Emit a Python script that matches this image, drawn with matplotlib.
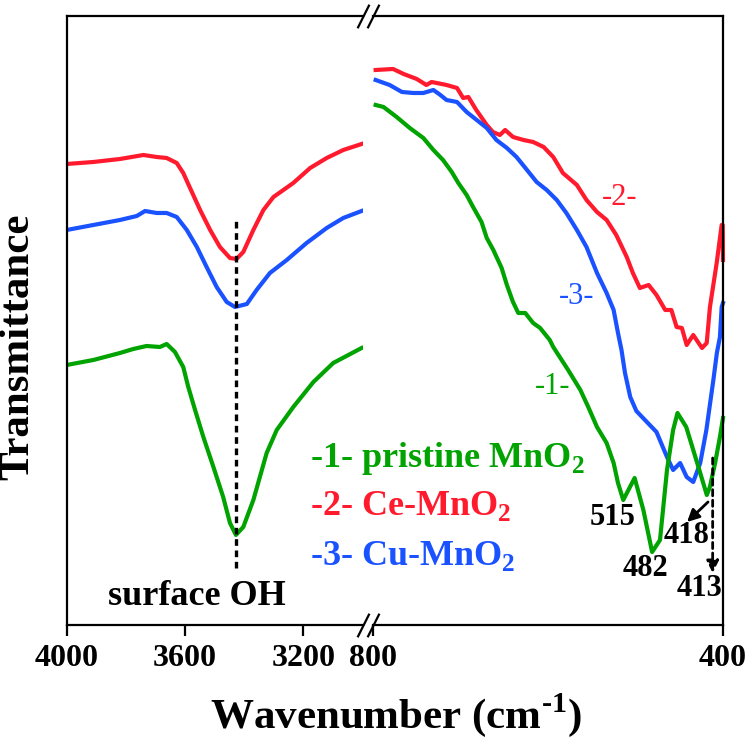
import matplotlib
matplotlib.use("Agg")
import matplotlib.pyplot as plt

plt.rcParams["font.family"] = ["Liberation Serif", "DejaVu Serif"]
plt.rcParams["font.weight"] = "bold"
plt.rcParams["mathtext.fontset"] = "custom"
plt.rcParams["mathtext.rm"] = "Liberation Serif:bold"
plt.rcParams["mathtext.bf"] = "Liberation Serif:bold"

# ---- OH region (4000-3000 cm-1) ----
oh_wn_red = [4000, 3910, 3820, 3780, 3741, 3696, 3662, 3628, 3606, 3583, 3549, 3515,
             3482, 3448, 3426, 3403, 3369, 3335, 3301, 3234, 3177, 3121, 3065, 3003]
oh_red = [46.1, 46.3, 46.6, 46.8, 47.0, 46.8, 46.7, 46.2, 45.2, 43.7, 41.5, 39.5,
          37.8, 36.7, 36.6, 37.3, 39.5, 41.5, 42.8, 44.2, 45.7, 46.7, 47.5, 48.1]

oh_wn_blue = [4000, 3910, 3820, 3763, 3735, 3696, 3662, 3628, 3594, 3560, 3527,
              3493, 3459, 3431, 3391, 3358, 3313, 3256, 3189, 3121, 3065, 3003]
oh_blue = [39.5, 40.0, 40.5, 40.9, 41.4, 41.2, 41.2, 40.8, 39.5, 37.8, 35.8,
           33.8, 32.3, 31.8, 32.1, 33.5, 35.2, 36.5, 38.2, 39.7, 40.7, 41.4]

oh_wn_green = [4000, 3910, 3820, 3775, 3730, 3685, 3662, 3634, 3606, 3589, 3566,
               3538, 3504, 3471, 3448, 3428, 3403, 3369, 3324, 3290, 3234, 3166,
               3099, 3003]
oh_green = [26.0, 26.5, 27.2, 27.6, 27.9, 27.8, 28.1, 27.3, 25.8, 23.8, 21.5,
            18.8, 15.8, 12.8, 10.2, 9.0, 9.8, 12.5, 17.2, 19.5, 21.8, 24.3,
            26.2, 27.7]

# ---- Mn-O region (800-400 cm-1) ----
mo_wn_red = [797, 777, 765, 750, 739, 733, 716, 704, 697, 691, 682, 670, 663, 655,
             649, 640, 628, 617, 605, 594, 583, 567, 556, 544, 533, 522, 510, 503,
             495, 485, 476, 466, 459, 453, 447, 441.5, 434, 424, 418.6, 414.9, 407.2,
             401.5, 400.3, 400]
mo_red = [55.5, 55.6, 55.1, 54.6, 54.0, 54.3, 54.0, 53.7, 52.7, 52.8, 51.5, 50.0,
          49.3, 49.0, 49.5, 48.8, 48.5, 48.3, 47.8, 46.8, 45.2, 44.0, 42.5, 41.3,
          40.5, 39.0, 36.8, 35.2, 33.7, 34.0, 33.0, 31.5, 31.5, 29.8, 29.7, 28.0,
          29.0, 27.7, 28.2, 31.8, 36.2, 40.0, 40.0, 36.5]

mo_wn_blue = [797, 781, 767, 754, 742.5, 731, 723, 716, 704, 693, 681.5, 670, 659,
              647, 636, 624, 613, 601.5, 590, 579, 567, 556, 544, 533, 525, 520,
              516, 512, 506, 499, 487, 476, 464, 457, 449, 441.5, 434, 426, 419,
              411, 407, 403.5, 401.5, 400]
mo_blue = [54.5, 54.0, 53.3, 53.2, 53.2, 53.5, 53.0, 52.5, 52.3, 51.3, 50.5, 49.7,
           48.5, 47.7, 46.8, 45.5, 44.3, 43.5, 42.5, 41.2, 39.5, 37.8, 35.2, 33.2,
           31.5, 29.2, 27.5, 25.2, 22.8, 21.4, 20.3, 19.3, 16.8, 15.5, 16.2, 14.8,
           14.3, 16.2, 19.5, 24.5, 27.2, 28.8, 31.8, 32.2]

mo_wn_green = [797, 788, 773, 758, 742.5, 731, 720, 710, 702.5, 693, 685, 676, 670,
               662.5, 653, 647, 640, 634, 626, 617, 609, 598, 594, 577, 563, 554,
               544, 533, 525, 520, 514, 501, 491, 481, 472, 464, 457, 452, 442, 434,
               426, 418.5, 415, 409, 403.5, 400]
mo_green = [52.0, 51.8, 50.8, 49.7, 48.7, 47.5, 46.5, 45.3, 44.2, 43.0, 41.7, 40.3,
            38.7, 37.5, 35.7, 34.0, 32.3, 31.2, 31.2, 30.2, 29.7, 28.5, 27.8, 25.5,
            23.5, 21.8, 19.8, 18.2, 16.2, 14.2, 12.5, 14.7, 11.5, 7.3, 8.5, 15.5,
            19.5, 21.2, 19.8, 17.5, 15.2, 13.0, 13.8, 16.2, 18.8, 20.7]

oh_band = 3428
peak_labels = ["515", "482", "418", "413"]

red = "#ff1a2d"
blue = "#1a52ff"
green = "#00a300"
lw = 3

fig = plt.figure(figsize=(7.51, 7.40), dpi=100)
ax1 = fig.add_axes([0.0888, 0.1554, 0.3939, 0.8230])
ax2 = fig.add_axes([0.4967, 0.1554, 0.4660, 0.8230])
ax2.patch.set_visible(False)

ax1.plot(oh_wn_red, oh_red, color=red, lw=lw)
ax1.plot(oh_wn_blue, oh_blue, color=blue, lw=lw)
ax1.plot(oh_wn_green, oh_green, color=green, lw=lw)
ax1.plot([oh_band, oh_band], [5.7, 40.8], color="black", lw=2.4, ls=(0, (2.0, 1.4)))

ax2.plot(mo_wn_red, mo_red, color=red, lw=lw, clip_on=False)
ax2.plot(mo_wn_blue, mo_blue, color=blue, lw=lw, clip_on=False)
ax2.plot(mo_wn_green, mo_green, color=green, lw=lw, clip_on=False)

ax1.set_xlim(4000, 3000)
ax2.set_xlim(800, 400)
for ax in (ax1, ax2):
    ax.set_ylim(0, 60.9)
    ax.set_yticks([])
    for s in ax.spines.values():
        s.set_linewidth(1.6)
    ax.tick_params(axis="x", direction="out", length=8, width=1.6, pad=6,
                   labelsize=23)
ax1.set_xticks([4000, 3600, 3200])
ax2.set_xticks([800, 400])
ax1.spines["right"].set_visible(False)
ax2.spines["left"].set_visible(False)

# break marks
kw = dict(marker=[(-0.5, -1), (0.5, 1)], markersize=17, linestyle="none",
          color="k", mec="k", mew=1.6, clip_on=False)
ax1.plot([1, 1], [0, 1], transform=ax1.transAxes, **kw)
ax2.plot([0, 0], [0, 1], transform=ax2.transAxes, **kw)

# annotations
ax1.text(3559, 2.0, "surface OH", fontsize=26, ha="center", va="baseline")
ax1.text(3177, 15.8, r"-1- pristine MnO$_\mathbf{2}$", color=green, fontsize=26,
         va="baseline", clip_on=False)
ax1.text(3177, 11.0, r"-2- Ce-MnO$_\mathbf{2}$", color=red, fontsize=26,
         va="baseline", clip_on=False)
ax1.text(3177, 6.0, r"-3- Cu-MnO$_\mathbf{2}$", color=blue, fontsize=26,
         va="baseline", clip_on=False)

ax2.text(517.7, 42.7, "-2-", color=red, fontsize=22, fontweight="normal",
         ha="center", va="center")
ax2.text(566.9, 32.8, "-3-", color=blue, fontsize=22, fontweight="normal",
         ha="center", va="center")
ax2.text(594.3, 23.8, "-1-", color=green, fontsize=22, fontweight="normal",
         ha="center", va="center")

for lab, x, y in zip(peak_labels, [525.7, 489.1, 441.1, 426.3], [10.8, 5.7, 9.0, 3.7]):
    ax2.text(x, y, lab, fontsize=22, ha="center", va="center")

ax2.annotate("", xy=(441.1, 10.3), xytext=(417.1, 12.3),
             arrowprops=dict(arrowstyle="-|>", color="black", lw=2,
                             mutation_scale=18, shrinkA=0, shrinkB=0))
ax2.annotate("", xy=(411.8, 5.2), xytext=(411.8, 16.7),
             arrowprops=dict(arrowstyle="-|>", color="black", lw=2, ls=(0, (2.2, 1.6)),
                             mutation_scale=18, shrinkA=0, shrinkB=0))

fig.text(0.527, 0.0162, "Wavenumber (cm$^{\\mathbf{\u2010}\\mathbf{1}}$)", fontsize=31,
         ha="center", va="baseline")
fig.text(0.025, 1 - 347 / 740, "Transmittance", fontsize=31, rotation=90,
         ha="center", va="center")

fig.savefig("out.png", dpi=100)
